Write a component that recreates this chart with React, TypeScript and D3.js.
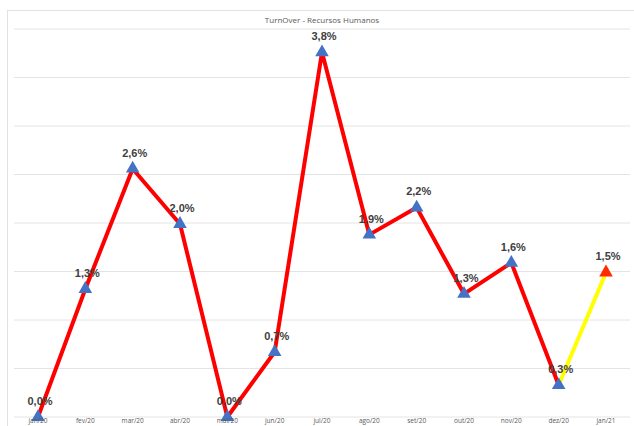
import React from "react";
import * as d3 from "d3";

const categories = ["jan/20", "fev/20", "mar/20", "abr/20", "mai/20", "jun/20", "jul/20", "ago/20", "set/20", "out/20", "nov/20", "dez/20", "jan/21"];
const values = [0.0, 1.32, 2.56, 1.99, 0.0, 0.67, 3.76, 1.88, 2.16, 1.27, 1.59, 0.33, 1.49];
const yTicks = [0, 0.5, 1, 1.5, 2, 2.5, 3, 3.5, 4];
const title = "TurnOver - Recursos Humanos";

const W = 634;
const H = 426;

export default function App() {
  const x = d3.scalePoint<string>().domain(categories).range([38, 606]);
  const y = d3.scaleLinear().domain([0, 4]).range([417, 29]);
  const pts = values.map((v, i) => [x(categories[i]) as number, y(v)] as [number, number]);
  const line = d3.line();
  const redPath = line(pts.slice(0, pts.length - 1)) as string;
  const yellowPath = line(pts.slice(pts.length - 2)) as string;
  const tri = d3.symbol().type(d3.symbolTriangle).size(80)() as string;
  const fmt = (v: number) => v.toFixed(1).replace(".", ",") + "%";
  return (
    <svg width={W} height={H} style={{ position: "absolute", left: 0, top: 0, background: "#fff" }}>
      <rect x={7.5} y={10.5} width={W} height={H} fill="#fff" stroke="#e2e2e2" />
      {yTicks.map((t) => (
        <line key={t} x1={14} x2={630} y1={y(t)} y2={y(t)} stroke="#e4e4e4" strokeWidth={1} />
      ))}
      <text x={322} y={23} textAnchor="middle" fontFamily="Open Sans, sans-serif" fontSize={8} fill="#595959">{title}</text>
      <path d={redPath} fill="none" stroke="#ff0000" strokeWidth={4} strokeLinejoin="round" />
      <path d={yellowPath} fill="none" stroke="#ffff00" strokeWidth={4} />
      {pts.map((p, i) => (
        <path key={i} d={tri} transform={`translate(${p[0]},${p[1]})`} fill={i === pts.length - 1 ? "#ff2a00" : "#4472c4"} />
      ))}
      {pts.map((p, i) => (
        <text key={i} x={p[0] + 2} y={p[1] - 12} textAnchor="middle" fontFamily="Liberation Sans, Arial, sans-serif" fontWeight="bold" fontSize={11} fill="#404040">{fmt(values[i])}</text>
      ))}
      {categories.map((c) => (
        <text key={c} x={x(c) as number} y={423} textAnchor="middle" fontFamily="Open Sans, sans-serif" fontSize={6.5} fill="#595959">{c}</text>
      ))}
    </svg>
  );
}
